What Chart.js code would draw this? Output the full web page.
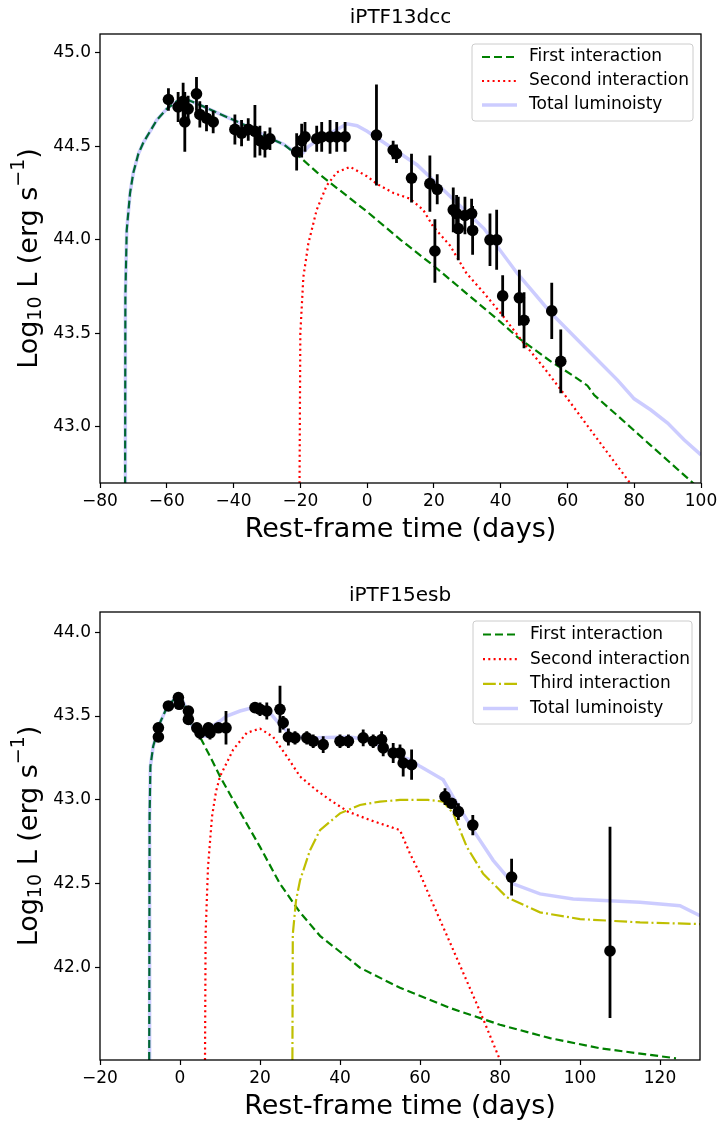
<!DOCTYPE html>
<html>
<head>
<meta charset="utf-8">
<script src="https://cdn.jsdelivr.net/npm/chart.js@4.4.0/dist/chart.umd.min.js"></script>
<style>
  body { margin: 0; background: #fff; }
  #wrap { position: relative; width: 721px; height: 1123px; }
  canvas { position: absolute; left: 0; }
</style>
</head>
<body>
<div id="wrap">
  <canvas id="c1" width="721" height="560" style="top:0"></canvas>
  <canvas id="c2" width="721" height="563" style="top:560px"></canvas>
</div>
<script>
// ---- iPTF13dcc : observed points ----
var dccDays = [-59.5, -56.6, -55.1, -54.6, -53.6, -51.1, -50.1, -48.1, -46.1, -39.6, -37.6, -35.6, -33.6, -32.1, -30.6, -29.1,
  -21.1, -19.6, -18.6, -15.1, -13.6, -11.1, -9.1, -6.6, 2.8, 7.8, 8.8, 13.3, 18.8, 21.0, 20.3, 25.8, 26.8, 27.3, 29.3, 31.3,
  31.6, 36.8, 38.8, 40.6, 45.6, 47.0, 55.3, 58.0];
var dccLum = [44.75, 44.71, 44.74, 44.63, 44.70, 44.78, 44.67, 44.65, 44.63, 44.59, 44.57, 44.59, 44.58, 44.53, 44.51, 44.54,
  44.47, 44.53, 44.55, 44.54, 44.55, 44.55, 44.55, 44.55, 44.56, 44.48, 44.46, 44.33, 44.30, 44.27, 43.94, 44.16, 44.14, 44.06,
  44.13, 44.14, 44.05, 44.00, 44.00, 43.70, 43.69, 43.57, 43.62, 43.35];
var dccErr = [0.06, 0.08, 0.10, 0.16, 0.07, 0.09, 0.07, 0.07, 0.06, 0.08, 0.07, 0.06, 0.14, 0.08, 0.07, 0.06,
  0.10, 0.09, 0.08, 0.07, 0.08, 0.09, 0.08, 0.08, 0.27, 0.05, 0.05, 0.13, 0.15, 0.08, 0.17, 0.12, 0.10, 0.17, 0.10, 0.08,
  0.13, 0.14, 0.16, 0.11, 0.15, 0.15, 0.15, 0.17];

// ---- iPTF13dcc : model curves ----
var dccFirstDays = [-72.5, -72.4, -72.0, -71.0, -70.0, -68.5, -67.0, -65.0, -63.0, -60.0, -57.0, -54.0, -50.0, -45.0, -40.0,
  -35.0, -30.0, -25.0, -20.0, -15.0, -10.0, -5.0, 0, 10, 20, 30, 40, 45, 55, 62, 66, 68, 75, 85, 97.6, 100];
var dccFirstLum = [42.5, 43.7, 44.05, 44.25, 44.36, 44.46, 44.52, 44.58, 44.64, 44.70, 44.74, 44.75, 44.72, 44.68, 44.64,
  44.60, 44.55, 44.51, 44.44, 44.36, 44.29, 44.22, 44.15, 44.0, 43.86, 43.71, 43.56, 43.48, 43.35, 43.27, 43.22, 43.17, 43.06,
  42.90, 42.70, 42.66];
var dccSecondDays = [-20.3, -20.0, -19.1, -17.6, -15.1, -12.1, -9.1, -5.1, -0.1, 2.8, 7.9, 12.8, 16.8, 19.8, 24.8, 29.8,
  34.8, 40.8, 46.8, 52.8, 58.8, 65, 70, 75, 80];
var dccSecondLum = [42.5, 43.5, 43.80, 43.98, 44.16, 44.29, 44.36, 44.39, 44.34, 44.30, 44.25, 44.22, 44.16, 44.07, 43.97,
  43.82, 43.72, 43.59, 43.45, 43.32, 43.18, 43.03, 42.91, 42.79, 42.67];
var dccTotalDays = [-72.5, -72.4, -72.0, -71.0, -70.0, -68.5, -67.0, -65.0, -63.0, -60.0, -57.0, -54.0, -50.0, -45.0, -40.0,
  -35.0, -30.0, -25.0, -20.0, -17.5, -15, -12, -9, -6, -3, 0, 5, 15, 25, 35, 45, 55, 65, 75, 80, 85, 90, 95, 100];
var dccTotalLum = [42.5, 43.7, 44.05, 44.25, 44.36, 44.46, 44.52, 44.58, 44.64, 44.70, 44.74, 44.75, 44.72, 44.68, 44.64,
  44.60, 44.55, 44.51, 44.45, 44.50, 44.53, 44.56, 44.59, 44.62, 44.61, 44.58, 44.52, 44.40, 44.23, 44.06, 43.82, 43.61,
  43.43, 43.25, 43.15, 43.09, 43.02, 42.93, 42.85];

// ---- iPTF15esb : observed points ----
var esbDays = [-5.4, -5.4, -2.9, -0.4, -0.2, 2.1, 2.1, 4.2, 5.0, 7.1, 7.5, 9.6, 11.5, 18.75, 20.0, 21.7, 25.0, 25.8, 27.1,
  28.75, 31.7, 33.3, 35.8, 40.0, 42.1, 45.8, 48.3, 50.4, 50.8, 53.3, 55.0, 55.8, 57.9, 66.25, 67.9, 69.6, 73.2, 82.9, 107.5];
var esbLum = [43.43, 43.375, 43.56, 43.61, 43.57, 43.53, 43.48, 43.43, 43.40, 43.43, 43.40, 43.43, 43.43, 43.55, 43.54, 43.53,
  43.54, 43.46, 43.375, 43.37, 43.37, 43.35, 43.33, 43.35, 43.35, 43.37, 43.35, 43.36, 43.31, 43.28, 43.28, 43.22, 43.21,
  43.02, 42.98, 42.93, 42.85, 42.54, 42.10];
var esbErrLo = [0.03, 0.03, 0.03, 0.03, 0.03, 0.03, 0.03, 0.03, 0.04, 0.03, 0.04, 0.03, 0.10, 0.03, 0.04, 0.05, 0.14, 0.04,
  0.05, 0.04, 0.04, 0.04, 0.05, 0.04, 0.04, 0.05, 0.04, 0.05, 0.05, 0.06, 0.05, 0.08, 0.09, 0.05, 0.03, 0.05, 0.06, 0.11, 0.40];
var esbErrHi = [0.03, 0.03, 0.03, 0.03, 0.03, 0.03, 0.03, 0.03, 0.04, 0.03, 0.04, 0.03, 0.10, 0.03, 0.04, 0.05, 0.14, 0.04,
  0.05, 0.04, 0.04, 0.04, 0.05, 0.04, 0.04, 0.05, 0.04, 0.05, 0.05, 0.06, 0.05, 0.08, 0.09, 0.05, 0.03, 0.05, 0.06, 0.11, 0.74];

// ---- iPTF15esb : model curves ----
var esbFirstDays = [-7.7, -7.6, -7.4, -6.7, -5.0, -3.3, -1.5, 0, 1.5, 2.5, 5, 7.5, 10, 13.3, 20, 25, 30, 35, 45, 55, 67.5,
  80, 92.5, 105, 124];
var esbFirstLum = [41.45, 42.9, 43.2, 43.32, 43.46, 43.55, 43.60, 43.62, 43.55, 43.46, 43.375, 43.26, 43.14, 43.0, 42.72,
  42.50, 42.33, 42.19, 42.0, 41.88, 41.76, 41.66, 41.58, 41.52, 41.46];
var esbSecondDays = [6.25, 6.4, 7.0, 8.0, 9.0, 10, 13.3, 16.7, 20, 23.3, 26.7, 30, 34, 37.5, 42, 47.5, 55, 57.5, 60, 62.5,
  67.5, 75, 80];
var esbSecondLum = [41.45, 42.2, 42.6, 42.9, 43.05, 43.14, 43.30, 43.40, 43.425, 43.375, 43.26, 43.14, 43.06, 43.0, 42.93,
  42.88, 42.82, 42.68, 42.56, 42.42, 42.15, 41.74, 41.45];
var esbThirdDays = [28.1, 28.2, 29, 30, 32.5, 35, 40, 45, 50, 55, 62, 65.8, 68.3, 71.7, 75.8, 81.7, 90, 100, 115, 130];
var esbThirdLum = [41.45, 42.2, 42.4, 42.52, 42.7, 42.82, 42.92, 42.97, 42.99, 43.0, 43.0, 42.99, 42.92, 42.72, 42.56, 42.42,
  42.33, 42.29, 42.27, 42.26];
var esbTotalDays = [-7.7, -7.6, -7.4, -6.7, -5.0, -3.3, -1.5, 0, 1.5, 2.5, 5, 6.5, 7.5, 10, 11.7, 15, 18.3, 21.7, 25, 28.3,
  34, 42.5, 46.7, 55, 57.5, 60, 65.8, 69.2, 73.3, 78.3, 83.3, 90, 98.3, 115, 125, 130];
var esbTotalLum = [41.45, 42.9, 43.2, 43.32, 43.46, 43.55, 43.60, 43.62, 43.55, 43.46, 43.38, 43.38, 43.43, 43.47, 43.50,
  43.53, 43.55, 43.54, 43.45, 43.375, 43.37, 43.375, 43.36, 43.26, 43.24, 43.2, 43.12, 42.98, 42.82, 42.64, 42.50, 42.44,
  42.41, 42.39, 42.37, 42.31];

// ---- tick labels ----
var dccXTicks = [-80, -60, -40, -20, 0, 20, 40, 60, 80, 100];
var dccYTicks = [43.0, 43.5, 44.0, 44.5, 45.0];
var esbXTicks = [-20, 0, 20, 40, 60, 80, 100, 120];
var esbYTicks = [42.0, 42.5, 43.0, 43.5, 44.0];

Chart.defaults.font.family = "'DejaVu Sans', sans-serif";
Chart.defaults.color = '#000';

var GREEN = '#008000', RED = '#ff0000', YELLOW = '#bfbf00', BLUE = 'rgba(0,0,255,0.2)';

function pts(xs, ys) {
  return xs.map(function (x, i) { return { x: x, y: ys[i] }; });
}

function lineSet(label, xs, ys, color, dash, width, order) {
  return {
    type: 'line', label: label, data: pts(xs, ys), borderColor: color, borderDash: dash,
    borderWidth: width, pointRadius: 0, tension: 0, fill: false, order: order
  };
}

// error bars drawn from the data arrays through the chart scales
var errorBars = {
  id: 'errorBars',
  afterDatasetsDraw: function (chart, args, o) {
    var ctx = chart.ctx, x = chart.scales.x, y = chart.scales.y, a = chart.chartArea;
    ctx.save();
    ctx.beginPath();
    ctx.rect(a.left, a.top, a.right - a.left, a.bottom - a.top);
    ctx.clip();
    ctx.strokeStyle = '#000';
    ctx.lineWidth = 2.8;
    ctx.beginPath();
    o.days.forEach(function (t, i) {
      var px = x.getPixelForValue(t);
      ctx.moveTo(px, y.getPixelForValue(o.lum[i] - o.lo[i]));
      ctx.lineTo(px, y.getPixelForValue(o.lum[i] + o.hi[i]));
    });
    ctx.stroke();
    ctx.restore();
  }
};

function drawYLabel(ctx, cx, cy) {
  var parts = [
    { t: 'Log', s: 27, dy: 0 }, { t: '10', s: 19, dy: 6 }, { t: ' L (erg s', s: 27, dy: 0 },
    { t: '\u22121', s: 19, dy: -11 }, { t: ')', s: 27, dy: 0 }
  ];
  ctx.save();
  ctx.translate(cx, cy);
  ctx.rotate(-Math.PI / 2);
  ctx.fillStyle = '#000';
  ctx.textBaseline = 'middle';
  ctx.textAlign = 'left';
  var w = 0;
  parts.forEach(function (p) { ctx.font = p.s + "px 'DejaVu Sans'"; w += ctx.measureText(p.t).width; });
  var xx = -w / 2;
  parts.forEach(function (p) {
    ctx.font = p.s + "px 'DejaVu Sans'";
    ctx.fillText(p.t, xx, p.dy);
    xx += ctx.measureText(p.t).width;
  });
  ctx.restore();
}

var decor = {
  id: 'decor',
  afterDraw: function (chart, args, o) {
    var ctx = chart.ctx, a = chart.chartArea;
    ctx.save();
    // frame
    ctx.strokeStyle = '#000';
    ctx.lineWidth = 1.3;
    ctx.strokeRect(a.left, a.top, a.right - a.left, a.bottom - a.top);
    // title
    ctx.fillStyle = '#000';
    ctx.textAlign = 'center';
    ctx.textBaseline = 'middle';
    ctx.font = "20px 'DejaVu Sans'";
    ctx.fillText(o.title, (a.left + a.right) / 2, o.titleY);
    // x label
    ctx.font = "27px 'DejaVu Sans'";
    ctx.fillText('Rest-frame time (days)', (a.left + a.right) / 2, o.xLabelY);
    drawYLabel(ctx, 30, (a.top + a.bottom) / 2);
    // legend
    var L = o.legend;
    ctx.fillStyle = 'rgba(255,255,255,0.8)';
    ctx.strokeStyle = '#cccccc';
    ctx.lineWidth = 1;
    ctx.beginPath();
    ctx.roundRect(L.x, L.y, L.w, L.h, 3);
    ctx.fill();
    ctx.stroke();
    L.items.forEach(function (it, i) {
      var yy = L.y + L.first + i * L.step;
      ctx.beginPath();
      ctx.setLineDash(it.dash);
      ctx.strokeStyle = it.color;
      ctx.lineWidth = it.width;
      ctx.moveTo(L.x + 10, yy);
      ctx.lineTo(L.x + 45, yy);
      ctx.stroke();
      ctx.setLineDash([]);
      ctx.fillStyle = '#000';
      ctx.textAlign = 'left';
      ctx.font = "17px 'DejaVu Sans'";
      ctx.fillText(it.label, L.x + 57, yy);
    });
    ctx.restore();
  }
};

function fmtX(v) { return v < 0 ? '\u2212' + Math.abs(v) : String(v); }
function fmtY(v) { return Number(v).toFixed(1); }

function axes(xMin, xMax, yMin, yMax, xTicks, yTicks, xHeight) {
  var grid = { display: true, drawOnChartArea: false, drawTicks: true, tickLength: 5, tickColor: '#000', tickWidth: 1.2 };
  return {
    x: {
      type: 'linear', min: xMin, max: xMax, grid: grid, border: { display: false },
      afterBuildTicks: function (s) { s.ticks = xTicks.map(function (v) { return { value: v }; }); },
      afterFit: function (s) { s.height = xHeight; },
      ticks: { font: { size: 17 }, color: '#000', padding: 3, maxRotation: 0, callback: fmtX }
    },
    y: {
      type: 'linear', min: yMin, max: yMax, grid: grid, border: { display: false },
      afterBuildTicks: function (s) { s.ticks = yTicks.map(function (v) { return { value: v }; }); },
      afterFit: function (s) { s.width = 100; },
      ticks: { font: { size: 17 }, color: '#000', padding: 4, callback: fmtY }
    }
  };
}

var baseOpts = {
  responsive: false, animation: false, devicePixelRatio: 1,
  plugins: { legend: { display: false }, tooltip: { enabled: false }, title: { display: false } }
};

// ---- iPTF13dcc ----
new Chart(document.getElementById('c1'), {
  type: 'scatter',
  data: {
    datasets: [
      { type: 'scatter', data: pts(dccDays, dccLum), pointRadius: 5.8, backgroundColor: '#000', borderWidth: 0, order: 0 },
      lineSet('Total luminoisty', dccTotalDays, dccTotalLum, BLUE, [], 3.5, 1),
      lineSet('Second interaction', dccSecondDays, dccSecondLum, RED, [2, 3.3], 2.2, 3),
      lineSet('First interaction', dccFirstDays, dccFirstLum, GREEN, [8, 4], 2.2, 4)
    ]
  },
  options: Object.assign({}, baseOpts, {
    layout: { padding: { top: 34, right: 20, left: 0, bottom: 0 } },
    scales: axes(-80, 100, 42.70, 45.10, dccXTicks, dccYTicks, 77),
    plugins: Object.assign({}, baseOpts.plugins, {
      errorBars: { days: dccDays, lum: dccLum, lo: dccErr, hi: dccErr },
      decor: {
        title: 'iPTF13dcc', titleY: 18, xLabelY: 530,
        legend: {
          x: 472, y: 44, w: 221, h: 77, first: 13, step: 24,
          items: [
            { label: 'First interaction', color: GREEN, dash: [8, 4], width: 2.2 },
            { label: 'Second interaction', color: RED, dash: [2, 3.3], width: 2.2 },
            { label: 'Total luminoisty', color: BLUE, dash: [], width: 3.5 }
          ]
        }
      }
    })
  }),
  plugins: [errorBars, decor]
});

// ---- iPTF15esb ----
new Chart(document.getElementById('c2'), {
  type: 'scatter',
  data: {
    datasets: [
      { type: 'scatter', data: pts(esbDays, esbLum), pointRadius: 5.8, backgroundColor: '#000', borderWidth: 0, order: 0 },
      lineSet('Total luminoisty', esbTotalDays, esbTotalLum, BLUE, [], 3.5, 1),
      lineSet('Third interaction', esbThirdDays, esbThirdLum, YELLOW, [12.8, 3.2, 2, 3.2], 2.2, 2),
      lineSet('Second interaction', esbSecondDays, esbSecondLum, RED, [2, 3.3], 2.2, 3),
      lineSet('First interaction', esbFirstDays, esbFirstLum, GREEN, [8, 4], 2.2, 4)
    ]
  },
  options: Object.assign({}, baseOpts, {
    layout: { padding: { top: 52, right: 21, left: 0, bottom: 0 } },
    scales: axes(-20, 130, 41.45, 44.12, esbXTicks, esbYTicks, 63),
    plugins: Object.assign({}, baseOpts.plugins, {
      errorBars: { days: esbDays, lum: esbLum, lo: esbErrLo, hi: esbErrHi },
      decor: {
        title: 'iPTF15esb', titleY: 36, xLabelY: 547,
        legend: {
          x: 473, y: 61, w: 219, h: 103, first: 13.5, step: 24.7,
          items: [
            { label: 'First interaction', color: GREEN, dash: [8, 4], width: 2.2 },
            { label: 'Second interaction', color: RED, dash: [2, 3.3], width: 2.2 },
            { label: 'Third interaction', color: YELLOW, dash: [12.8, 3.2, 2, 3.2], width: 2.2 },
            { label: 'Total luminoisty', color: BLUE, dash: [], width: 3.5 }
          ]
        }
      }
    })
  }),
  plugins: [errorBars, decor]
});
</script>
</body>
</html>
